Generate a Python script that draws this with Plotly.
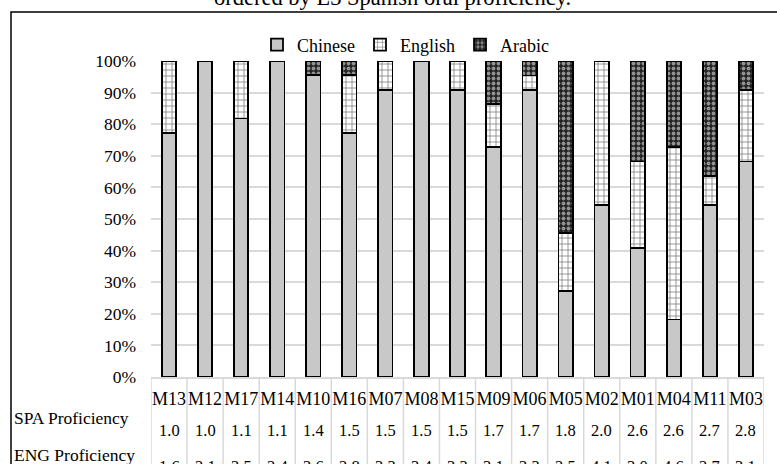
import plotly.graph_objects as go

# Participants ordered by L3 Spanish oral proficiency
categories = ["M13", "M12", "M17", "M14", "M10", "M16", "M07", "M08", "M15",
              "M09", "M06", "M05", "M02", "M01", "M04", "M11", "M03"]
chinese = [77.3, 100, 81.8, 100, 95.5, 77.3, 90.9, 100, 90.9,
           72.7, 90.9, 27.3, 54.5, 40.9, 18.2, 54.5, 68.2]
english = [22.7, 0, 18.2, 0, 0, 18.2, 9.1, 0, 9.1,
           13.6, 4.5, 18.2, 45.5, 27.3, 54.5, 9.1, 22.7]
arabic = [0, 0, 0, 0, 4.5, 4.5, 0, 0, 0,
          13.6, 4.5, 54.5, 0, 31.8, 27.3, 36.4, 9.1]
spa_prof = [1.0, 1.0, 1.1, 1.1, 1.4, 1.5, 1.5, 1.5, 1.5,
            1.7, 1.7, 1.8, 2.0, 2.6, 2.6, 2.7, 2.8]
eng_prof = [1.6, 2.1, 2.5, 2.4, 2.6, 2.8, 3.3, 3.4, 3.3,
            3.1, 2.3, 2.5, 4.1, 3.0, 4.6, 2.7, 3.1]
row_labels = ["SPA Proficiency", "ENG Proficiency"]
title_text = "ordered by L3 Spanish oral proficiency."

FONT = "Liberation Serif, Times New Roman, serif"
W, H = 777, 464
ML, MR, MT, MB = 151, 13, 61, 87
plot_w = W - ML - MR
plot_h = H - MT - MB


def px_to_paper_x(px):
    return (px - ML) / plot_w


def px_to_paper_y(py):
    return (H - MB - py) / plot_h


def nz(vals):
    return [v if v else None for v in vals]


x_idx = list(range(len(categories)))
outline = dict(color="black", width=1.8)

fig = go.Figure()
fig.add_trace(go.Bar(
    name="Chinese", x=x_idx, y=nz(chinese),
    marker=dict(color="#c8c8c8", line=outline),
))
fig.add_trace(go.Bar(
    name="English", x=x_idx, y=nz(english),
    marker=dict(color="white", line=outline,
                pattern=dict(shape="+", fgcolor="black", bgcolor="white",
                             size=6, solidity=0.25)),
))
fig.add_trace(go.Bar(
    name="Arabic", x=x_idx, y=nz(arabic),
    marker=dict(color="#333333", line=outline,
                pattern=dict(shape=".", fgcolor="white", bgcolor="#222222",
                             size=5, solidity=0.45)),
))

annotations = []
# Proficiency table rows beneath the category labels
for row_i, (label, vals) in enumerate([(row_labels[0], spa_prof), (row_labels[1], eng_prof)]):
    label_y = 418 if row_i == 0 else 455
    value_y = 430 if row_i == 0 else 466
    annotations.append(dict(
        x=px_to_paper_x(12), y=px_to_paper_y(label_y), xref="paper", yref="paper",
        text=label, showarrow=False, xanchor="left", yanchor="middle",
        font=dict(family=FONT, size=17.5, color="black"),
    ))
    for i, v in enumerate(vals):
        annotations.append(dict(
            x=i, y=px_to_paper_y(value_y), xref="x", yref="paper",
            text=f"{v:.1f}", showarrow=False, xanchor="center", yanchor="middle",
            font=dict(family=FONT, size=16.5, color="black"),
        ))

annotations.append(dict(
    x=px_to_paper_x(392), y=px_to_paper_y(-3), xref="paper", yref="paper",
    text=title_text, showarrow=False, xanchor="center", yanchor="middle",
    font=dict(family=FONT, size=22.5, color="black"),
))

shapes = []
# Table cell dividers at category boundaries
for k in range(len(categories) + 1):
    shapes.append(dict(
        type="line", xref="x", yref="paper", x0=k - 0.5, x1=k - 0.5,
        y0=0, y1=px_to_paper_y(470), line=dict(color="#d9d9d9", width=1.5),
        layer="below",
    ))
# Chart area frame
shapes.append(dict(
    type="rect", xref="paper", yref="paper",
    x0=px_to_paper_x(11), x1=px_to_paper_x(790),
    y0=px_to_paper_y(480), y1=px_to_paper_y(12),
    line=dict(color="black", width=1.5), fillcolor="rgba(0,0,0,0)",
    layer="below",
))

fig.update_layout(
    width=W, height=H, autosize=False,
    margin=dict(l=ML, r=MR, t=MT, b=MB, pad=0),
    barmode="stack", bargap=0.6,
    plot_bgcolor="white", paper_bgcolor="white",
    font=dict(family=FONT, size=16, color="black"),
    showlegend=True,
    legend=dict(
        orientation="h", x=px_to_paper_x(406), xanchor="center",
        y=px_to_paper_y(45), yanchor="middle",
        font=dict(family=FONT, size=18, color="black"),
        itemwidth=30, traceorder="normal", bgcolor="rgba(0,0,0,0)",
    ),
    xaxis=dict(
        range=[-0.5, len(categories) - 0.5],
        tickmode="array", tickvals=x_idx, ticktext=categories,
        showgrid=False, zeroline=False,
        showline=True, linecolor="#d9d9d9", linewidth=1.5,
        ticks="", ticklabelstandoff=5,
        tickfont=dict(family=FONT, size=18, color="black"),
        fixedrange=True,
    ),
    yaxis=dict(
        range=[0, 100], tickmode="linear", tick0=0, dtick=10,
        ticksuffix="%", showgrid=True, gridcolor="#d9d9d9", gridwidth=1.5,
        zeroline=False, showline=False, ticks="", ticklabelstandoff=14,
        tickfont=dict(family=FONT, size=17.5, color="black"),
        fixedrange=True,
    ),
    annotations=annotations,
    shapes=shapes,
)

fig.write_html("out.html")
